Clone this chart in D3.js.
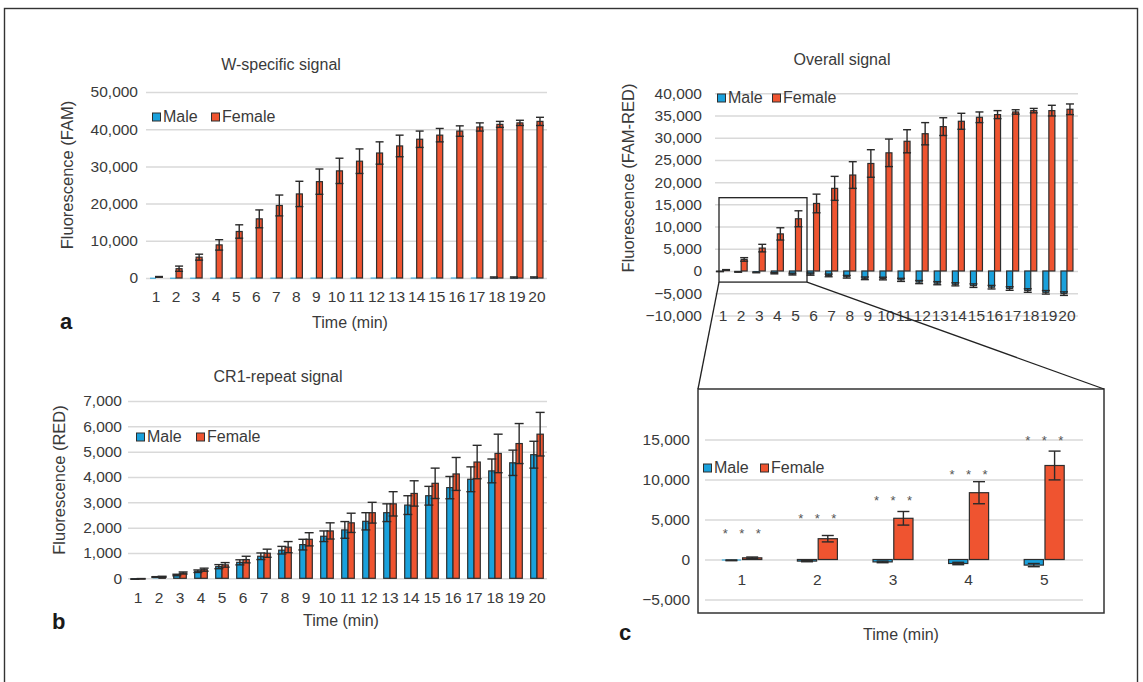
<!DOCTYPE html>
<meta charset="utf-8">
<head>
<script src="https://cdnjs.cloudflare.com/ajax/libs/d3/7.8.5/d3.min.js"></script>
<style>
	body { margin: 0; background: #fff; }
	text { font-family: "Liberation Sans", Arial, sans-serif; fill: #3a3a3a; }
</style>
</head>
<body>
<svg id="fig" width="1143" height="682"></svg>
<script>

////////////////////////////////////
// DATA
////////////////////////////////////

const minutes = ['1','2','3','4','5','6','7','8','9','10','11','12','13','14','15','16','17','18','19','20']
const zoomMinutes = ['1','2','3','4','5']

// a: W-specific signal (FAM)
const wMale      = [80, 80, 90, 90, 100, 100, 100, 100, 110, 110, 110, 120, 120, 120, 130, 130, 130, 140, 140, 150]
const wMaleErr   = [0, 0, 0, 0, 0, 0, 0, 0, 0, 0, 0, 0, 0, 0, 0, 0, 0, 150, 150, 150]
const wFemale    = [300, 2500, 5600, 8900, 12500, 15900, 19500, 22600, 25900, 28800, 31400, 33600, 35500, 37300, 38400, 39500, 40600, 41300, 41700, 42100]
const wFemaleErr = [100, 700, 800, 1400, 1800, 2400, 2800, 3400, 3400, 3400, 3300, 3000, 2900, 2200, 1800, 1400, 1100, 800, 700, 1100]

// b: CR1-repeat signal (RED)
const crMale      = [-30, 50, 130, 280, 460, 630, 870, 1110, 1330, 1660, 1910, 2250, 2590, 2890, 3260, 3580, 3910, 4240, 4560, 4880]
const crMaleErr   = [10, 15, 30, 50, 80, 100, 130, 150, 210, 210, 330, 340, 350, 370, 370, 440, 490, 470, 500, 530]
const crFemale    = [-20, 60, 210, 340, 530, 740, 990, 1230, 1540, 1870, 2190, 2590, 2940, 3350, 3750, 4120, 4590, 4930, 5320, 5690]
const crFemaleErr = [10, 20, 40, 60, 90, 130, 160, 220, 260, 320, 380, 410, 480, 500, 600, 650, 660, 760, 790, 860]

// overall signal (FAM-RED)
const ovMale      = [-100, -200, -300, -500, -700, -700, -1000, -1300, -1650, -1700, -2000, -2500, -2750, -3000, -3300, -3650, -3950, -4400, -4800, -5100]
const ovMaleErr   = [50, 80, 100, 150, 200, 250, 300, 300, 300, 300, 350, 350, 350, 350, 400, 400, 400, 400, 400, 400]
const ovFemale    = [210, 2600, 5150, 8350, 11750, 15200, 18600, 21600, 24200, 26600, 29200, 30900, 32500, 33700, 34600, 35200, 35800, 36100, 36100, 36400]
const ovFemaleErr = [100, 400, 850, 1380, 1800, 2100, 2700, 3000, 3100, 3100, 2600, 2500, 2000, 1800, 1200, 900, 500, 500, 1200, 1200]

// c: significance marks level (value units)
const sigLevel = [3600, 5400, 7700, 11000, 15200]

const series = ['Male', 'Female']
const colors = { Male: '#1aa1dc', Female: '#ef5430' }

////////////////////////////////////
// SETUP
////////////////////////////////////

const svg = d3.select('#fig')
const fmt = d3.format(',')

svg.append('rect')
	.attr('x', 4.5).attr('y', 8.5)
	.attr('width', 1133).attr('height', 720)
	.attr('fill', 'none').attr('stroke', '#333').attr('stroke-width', 1.4)

function rows(cats, male, maleErr, female, femaleErr) {
	return cats.map((c, i) => ({
		cat: c,
		vals: [
			{ key: 'Male', v: male[i], e: maleErr[i] },
			{ key: 'Female', v: female[i], e: femaleErr[i] }
		]
	}))
}

function drawPanel(o) {
	const g = svg.append('g')

	const x = d3.scaleBand().domain(o.cats).range(o.xRange)
	const y = d3.scaleLinear().domain(o.yDomain).range(o.yRange)
	const sub = d3.scaleBand().domain(series)
		.range([-o.groupW / 2, o.groupW / 2])
		.paddingInner(o.gap || 0)

	// grid + y tick labels
	const yAxis = g.append('g')
		.attr('transform', `translate(${o.grid[0]},0)`)
		.call(d3.axisLeft(y)
			.tickValues(o.ticks)
			.tickSize(-(o.grid[1] - o.grid[0]))
			.tickPadding(o.tickPad)
			.tickFormat(fmt))
	yAxis.select('.domain').remove()
	yAxis.selectAll('line').attr('stroke', '#d9d9d9').attr('stroke-width', 1.5)
	yAxis.selectAll('text').attr('font-size', 15.5).attr('fill', '#3a3a3a')
		.style('font-family', '"Liberation Sans", Arial, sans-serif')

	// category labels
	g.selectAll('.cat')
		.data(o.cats)
		.enter().append('text')
		.attr('x', d => x(d) + x.bandwidth() / 2)
		.attr('y', o.catY)
		.attr('text-anchor', 'middle')
		.attr('font-size', 15.5)
		.text(d => d)

	// bars
	const groups = g.selectAll('.grp')
		.data(o.data)
		.enter().append('g')
		.attr('transform', d => `translate(${x(d.cat) + x.bandwidth() / 2},0)`)

	groups.selectAll('rect')
		.data(d => d.vals)
		.enter().append('rect')
		.attr('x', d => sub(d.key))
		.attr('width', sub.bandwidth())
		.attr('y', d => y(Math.max(0, d.v)))
		.attr('height', d => Math.max(1, Math.abs(y(d.v) - y(0))))
		.attr('fill', d => colors[d.key])
		// hairline bars near zero show only their fill
		.attr('stroke', d => Math.abs(y(d.v) - y(0)) < 1.5 ? 'none' : '#2e2e2e')
		.attr('stroke-width', 1.2)

	// error bars
	const eb = groups.selectAll('.err')
		.data(d => d.vals.filter(v => v.e > 0))
		.enter().append('g')
		.attr('transform', d => `translate(${sub(d.key) + sub.bandwidth() / 2},0)`)
	eb.append('line')
		.attr('y1', d => y(d.v - d.e)).attr('y2', d => y(d.v + d.e))
		.attr('stroke', '#2a2a2a').attr('stroke-width', 1.4)
	eb.append('line')
		.attr('x1', -o.capW / 2).attr('x2', o.capW / 2)
		.attr('y1', d => y(d.v + d.e)).attr('y2', d => y(d.v + d.e))
		.attr('stroke', '#2a2a2a').attr('stroke-width', 1.4)
	eb.append('line')
		.attr('x1', -o.capW / 2).attr('x2', o.capW / 2)
		.attr('y1', d => y(d.v - d.e)).attr('y2', d => y(d.v - d.e))
		.attr('stroke', '#2a2a2a').attr('stroke-width', 1.4)

	// legend
	const lg = g.append('g').attr('transform', `translate(${o.legend[0]},${o.legend[1]})`)
	const items = [{ key: 'Male', dx: 0 }, { key: 'Female', dx: o.legendGap }]
	items.forEach(it => {
		lg.append('rect')
			.attr('x', it.dx + 0.5).attr('y', -9)
			.attr('width', 8).attr('height', 8)
			.attr('fill', colors[it.key])
			.attr('stroke', '#2e2e2e').attr('stroke-width', 1)
		lg.append('text')
			.attr('x', it.dx + 11).attr('y', 0)
			.attr('font-size', 16)
			.text(it.key)
	})

	// titles
	if (o.title) {
		g.append('text')
			.attr('x', o.title[0]).attr('y', o.title[1])
			.attr('text-anchor', 'middle').attr('font-size', 16)
			.text(o.title[2])
	}
	if (o.xTitle) {
		g.append('text')
			.attr('x', o.xTitle[0]).attr('y', o.xTitle[1])
			.attr('text-anchor', 'middle').attr('font-size', 16)
			.text('Time (min)')
	}
	if (o.yTitle) {
		g.append('text')
			.attr('transform', `translate(${o.yTitle[0]},${o.yTitle[1]}) rotate(-90)`)
			.attr('text-anchor', 'middle').attr('dominant-baseline', 'central')
			.attr('font-size', 16.5)
			.text(o.yTitle[2])
	}
	if (o.letter) {
		g.append('text')
			.attr('x', o.letter[0]).attr('y', o.letter[1])
			.attr('font-size', 22).attr('font-weight', 'bold')
			.style('fill', '#1a1a1a')
			.text(o.letter[2])
	}

	return { x, y, g }
}

////////////////////////////////////
// PANELS
////////////////////////////////////

drawPanel({
	cats: minutes,
	data: rows(minutes, wMale, wMaleErr, wFemale, wFemaleErr),
	xRange: [146, 547], yDomain: [0, 50000], yRange: [278, 92],
	ticks: [0, 10000, 20000, 30000, 40000, 50000],
	grid: [146, 547], tickPad: 8, catY: 302, groupW: 12, capW: 8,
	legend: [152, 122], legendGap: 59,
	title: [281, 70, 'W-specific signal'],
	xTitle: [350, 328],
	yTitle: [67, 175, 'Fluorescence (FAM)'],
	letter: [60, 329, 'a']
})

drawPanel({
	cats: minutes,
	data: rows(minutes, crMale, crMaleErr, crFemale, crFemaleErr),
	xRange: [127.5, 547.5], yDomain: [0, 7000], yRange: [578.3, 401],
	ticks: [0, 1000, 2000, 3000, 4000, 5000, 6000, 7000],
	grid: [128, 547], tickPad: 6, catY: 603, groupW: 12.6, capW: 9,
	legend: [136, 442], legendGap: 60,
	title: [278, 382, 'CR1-repeat signal'],
	xTitle: [341, 626],
	yTitle: [59, 480, 'Fluorescence (RED)'],
	letter: [52, 629, 'b']
})

const ov = drawPanel({
	cats: minutes,
	data: rows(minutes, ovMale, ovMaleErr, ovFemale, ovFemaleErr),
	xRange: [714, 1076], yDomain: [-10000, 40000], yRange: [315.4, 93.3],
	ticks: d3.range(-10000, 40001, 5000),
	grid: [715, 1078], tickPad: 13, catY: 321, groupW: 12, capW: 8,
	legend: [717, 103], legendGap: 55,
	title: [842, 65, 'Overall signal'],
	yTitle: [628, 178, 'Fluorescence (FAM-RED)']
})

const zc = drawPanel({
	cats: zoomMinutes,
	data: rows(zoomMinutes, ovMale.slice(0, 5), ovMaleErr.slice(0, 5), ovFemale.slice(0, 5), ovFemaleErr.slice(0, 5)),
	xRange: [704, 1082], yDomain: [-5000, 15000], yRange: [599.5, 439.5],
	ticks: [-5000, 0, 5000, 10000, 15000],
	grid: [705, 1083], tickPad: 15, catY: 585, groupW: 40, gap: 0.075, capW: 12,
	legend: [703, 473], legendGap: 57,
	xTitle: [901, 640],
	letter: [619, 640, 'c']
})

// significance marks in c
zoomMinutes.forEach((m, i) => {
	[-16.5, 0, 16.5].forEach(dx => {
		zc.g.append('text')
			.attr('x', zc.x(m) + zc.x.bandwidth() / 2 + dx)
			.attr('y', zc.y(sigLevel[i]) + 7)
			.attr('text-anchor', 'middle')
			.attr('font-size', 13)
			.style('fill', '#555')
			.text('*')
	})
})

////////////////////////////////////
// ZOOM WINDOW + CONNECTORS
////////////////////////////////////

const wx0 = ov.x('1') + 5
const wx1 = ov.x('5') + ov.x.bandwidth() + 2.5
const wy0 = ov.y(16500)
const wy1 = ov.y(-2500)

svg.append('rect')
	.attr('x', wx0).attr('y', wy0)
	.attr('width', wx1 - wx0).attr('height', wy1 - wy0)
	.attr('fill', 'none').attr('stroke', '#222').attr('stroke-width', 1.3)

const box = { x0: 698, y0: 389, x1: 1104, y1: 613 }
svg.append('rect')
	.attr('x', box.x0).attr('y', box.y0)
	.attr('width', box.x1 - box.x0).attr('height', box.y1 - box.y0)
	.attr('fill', 'none').attr('stroke', '#333').attr('stroke-width', 1.5)

svg.append('line')
	.attr('x1', wx0).attr('y1', wy1).attr('x2', box.x0).attr('y2', box.y0)
	.attr('stroke', '#222').attr('stroke-width', 1.3)
svg.append('line')
	.attr('x1', wx1).attr('y1', wy1).attr('x2', box.x1).attr('y2', box.y0)
	.attr('stroke', '#222').attr('stroke-width', 1.3)

</script>
</body>
